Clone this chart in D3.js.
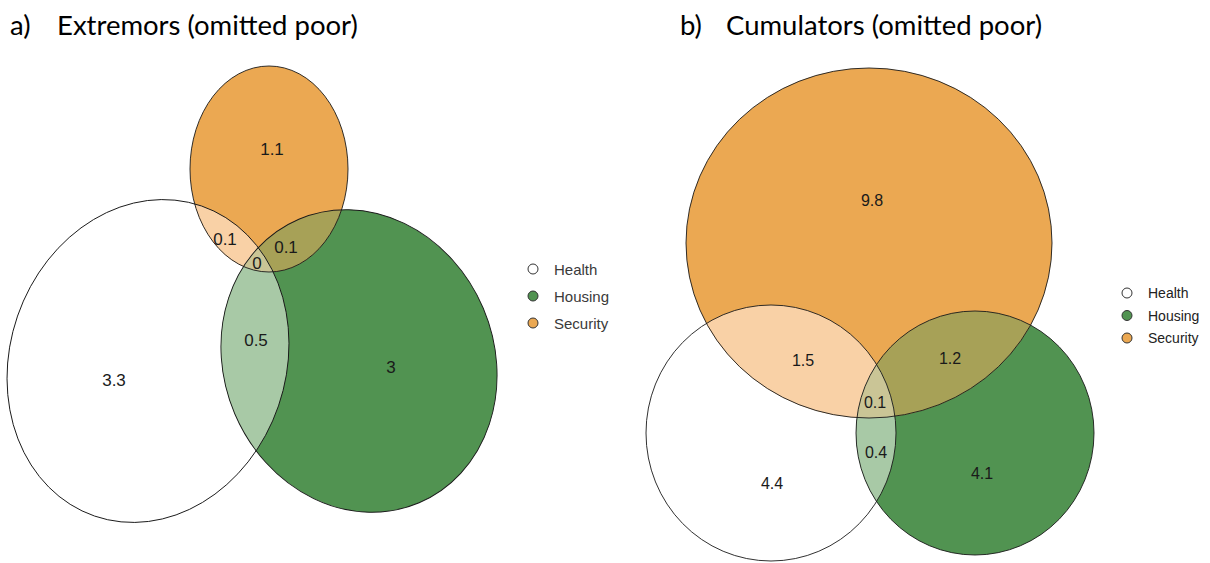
<!DOCTYPE html>
<html>
<head>
<meta charset="utf-8">
<script src="https://cdn.jsdelivr.net/npm/d3@7"></script>
<style>
  html, body { margin: 0; padding: 0; background: #fff; }
  svg { display: block; }
</style>
</head>
<body>
<svg id="chart" width="1210" height="563"></svg>
<script>
// ---------------- data ----------------
const categories = ["Health", "Housing", "Security"];
const panelTitles = ["a)", "b)"];
const panelNames = ["Extremors (omitted poor)", "Cumulators (omitted poor)"];

// region values (sets combination -> value)
const regionsA = [
  { sets: ["Health"], value: "3.3" },
  { sets: ["Housing"], value: "3" },
  { sets: ["Security"], value: "1.1" },
  { sets: ["Health", "Security"], value: "0.1" },
  { sets: ["Housing", "Security"], value: "0.1" },
  { sets: ["Health", "Housing", "Security"], value: "0" },
  { sets: ["Health", "Housing"], value: "0.5" }
];
const regionsB = [
  { sets: ["Security"], value: "9.8" },
  { sets: ["Health", "Security"], value: "1.5" },
  { sets: ["Housing", "Security"], value: "1.2" },
  { sets: ["Health", "Housing", "Security"], value: "0.1" },
  { sets: ["Health", "Housing"], value: "0.4" },
  { sets: ["Health"], value: "4.4" },
  { sets: ["Housing"], value: "4.1" }
];

// ---------------- layout (fitted ellipse geometry, in plot units) ----------------
const ellipsesA = [
  { set: "Health",   h: -1.04, k: -0.71, a: 1.38, b: 1.64, phi: -19 },
  { set: "Housing",  h:  1.07, k: -0.71, a: 1.35, b: 1.54, phi: 23 },
  { set: "Security", h:  0.17, k:  1.21, a: 0.79, b: 1.03, phi: 0 }
];
const labelPosA = [[-1.38, -0.90], [1.39, -0.77], [0.20, 1.41], [-0.27, 0.51], [0.34, 0.43], [0.05, 0.27], [0.04, -0.50]];
const ellipsesB = [
  { set: "Health",   h: -0.99, k: -1.33, a: 1.25, b: 1.28, phi: 0 },
  { set: "Housing",  h:  1.05, k: -1.33, a: 1.19, b: 1.22, phi: 0 },
  { set: "Security", h: -0.01, k:  0.57, a: 1.83, b: 1.75, phi: 0 }
];
const labelPosB = [[0.02, 1.00], [-0.67, -0.60], [0.80, -0.58], [0.05, -1.02], [0.06, -1.52], [-0.98, -1.83], [1.12, -1.73]];

// ---------------- styles ----------------
const setColors = { Health: "#FFFFFF", Housing: "#519351", Security: "#EBA852" };
const mixColors = {
  "Health&Security": "#F9D1A6",
  "Housing&Security": "#A7A157",
  "Health&Housing": "#A8C9A6",
  "Health&Housing&Security": "#CAC596"
};

const svg = d3.select("#chart");
const defs = svg.append("defs");

function drawPanel(idx, ellipses, regions, labelPos, cfg) {
  const x = d3.scaleLinear().domain([0, 1]).range([cfg.ox, cfg.ox + cfg.k]);
  const y = d3.scaleLinear().domain([0, 1]).range([cfg.oy, cfg.oy - cfg.k]);
  const sx = v => x(v) - x(0);
  const g = svg.append("g");

  const ellAttrs = (sel) => sel
    .attr("cx", 0).attr("cy", 0)
    .attr("rx", d => sx(d.a)).attr("ry", d => sx(d.b))
    .attr("transform", d => `translate(${x(d.h)},${y(d.k)}) rotate(${-d.phi})`);

  ellipses.forEach(e => {
    const cp = defs.append("clipPath").attr("id", `clip${idx}-${e.set}`);
    cp.append("ellipse").datum(e).call(ellAttrs);
  });

  g.selectAll("ellipse.base").data(ellipses).join("ellipse")
    .attr("class", "base").call(ellAttrs)
    .attr("fill", d => setColors[d.set]).attr("stroke", "none");

  const byName = {};
  ellipses.forEach(e => byName[e.set] = e);
  const pairs = [["Health", "Security"], ["Housing", "Security"], ["Health", "Housing"]];
  pairs.forEach(([p, q]) => {
    g.append("g").attr("clip-path", `url(#clip${idx}-${p})`)
      .append("ellipse").datum(byName[q]).call(ellAttrs)
      .attr("fill", mixColors[p + "&" + q]);
  });
  g.append("g").attr("clip-path", `url(#clip${idx}-Health)`)
    .append("g").attr("clip-path", `url(#clip${idx}-Housing)`)
    .append("ellipse").datum(byName["Security"]).call(ellAttrs)
    .attr("fill", mixColors["Health&Housing&Security"]);

  g.selectAll("ellipse.outline").data(ellipses).join("ellipse")
    .attr("class", "outline").call(ellAttrs)
    .attr("fill", "none").attr("stroke", "#1a1a1a").attr("stroke-width", 0.9);

  g.selectAll("text.region").data(regions).join("text")
    .attr("class", "region")
    .attr("x", (d, i) => x(labelPos[i][0]))
    .attr("y", (d, i) => y(labelPos[i][1]))
    .attr("text-anchor", "middle")
    .attr("dominant-baseline", "central")
    .style("font-family", "'Liberation Sans', Arial, sans-serif")
    .attr("font-size", cfg.labelSize)
    .attr("fill", "#1a1a1a")
    .text(d => d.value);

  svg.append("text").attr("x", cfg.titleX).attr("y", 35)
    .style("font-family", "Lato, 'Open Sans', sans-serif").attr("font-size", 27.5)
    .attr("fill", "#000").text(panelTitles[idx]);
  svg.append("text").attr("x", cfg.titleX2).attr("y", 35)
    .style("font-family", "Lato, 'Open Sans', sans-serif").attr("font-size", 27.5)
    .attr("fill", "#000").text(panelNames[idx]);

  const lg = svg.append("g");
  categories.forEach((c, i) => {
    lg.append("circle")
      .attr("cx", cfg.legX).attr("cy", cfg.legY + i * cfg.legStep).attr("r", 5)
      .attr("fill", setColors[c]).attr("stroke", "#333").attr("stroke-width", 1);
    lg.append("text")
      .attr("x", cfg.legX + 21).attr("y", cfg.legY + i * cfg.legStep)
      .attr("dominant-baseline", "central")
      .style("font-family", "'Liberation Sans', Arial, sans-serif")
      .attr("font-size", cfg.legSize).attr("fill", cfg.legColor)
      .text(c);
  });
}

drawPanel(0, ellipsesA, regionsA, labelPosA,
  { ox: 252, oy: 290, k: 100, labelSize: 17, titleX: 10, titleX2: 57,
    legX: 533, legY: 269, legStep: 27, legSize: 15, legColor: "#3a3a3a" });
drawPanel(1, ellipsesB, regionsB, labelPosB,
  { ox: 870, oy: 300, k: 100, labelSize: 16, titleX: 680, titleX2: 726,
    legX: 1127, legY: 293, legStep: 22.5, legSize: 14, legColor: "#222" });
</script>
</body>
</html>
